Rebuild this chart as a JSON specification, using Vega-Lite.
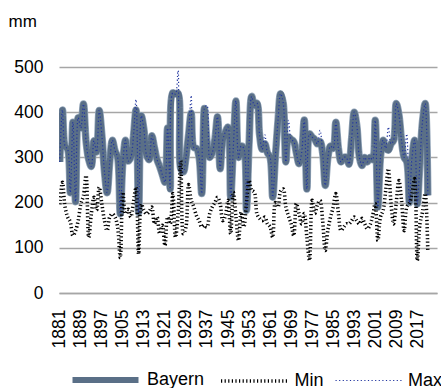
{
 "$schema": "https://vega.github.io/schema/vega-lite/v6.json",
 "width": 378, "height": 226,
 "autosize": {"type": "none"},
 "padding": {"left": 59, "top": 67, "right": 4, "bottom": 95},
 "background": "white",
 "data": {"values": [
{"year":1881,"Bayern":290,"Min":196,"Max":290},
{"year":1882,"Bayern":405,"Min":245,"Max":405},
{"year":1883,"Bayern":325,"Min":190,"Max":325},
{"year":1884,"Bayern":318,"Min":168,"Max":318},
{"year":1885,"Bayern":222,"Min":157,"Max":222},
{"year":1886,"Bayern":378,"Min":127,"Max":378},
{"year":1887,"Bayern":202,"Min":138,"Max":202},
{"year":1888,"Bayern":388,"Min":160,"Max":388},
{"year":1889,"Bayern":365,"Min":197,"Max":365},
{"year":1890,"Bayern":418,"Min":215,"Max":418},
{"year":1891,"Bayern":335,"Min":260,"Max":335},
{"year":1892,"Bayern":295,"Min":123,"Max":295},
{"year":1893,"Bayern":280,"Min":175,"Max":280},
{"year":1894,"Bayern":337,"Min":212,"Max":337},
{"year":1895,"Bayern":312,"Min":183,"Max":312},
{"year":1896,"Bayern":404,"Min":234,"Max":404},
{"year":1897,"Bayern":350,"Min":197,"Max":350},
{"year":1898,"Bayern":268,"Min":160,"Max":268},
{"year":1899,"Bayern":222,"Min":138,"Max":222},
{"year":1900,"Bayern":290,"Min":168,"Max":290},
{"year":1901,"Bayern":338,"Min":175,"Max":338},
{"year":1902,"Bayern":315,"Min":168,"Max":315},
{"year":1903,"Bayern":300,"Min":146,"Max":300},
{"year":1904,"Bayern":175,"Min":78,"Max":175},
{"year":1905,"Bayern":290,"Min":223,"Max":290},
{"year":1906,"Bayern":338,"Min":175,"Max":338},
{"year":1907,"Bayern":292,"Min":185,"Max":292},
{"year":1908,"Bayern":300,"Min":168,"Max":300},
{"year":1909,"Bayern":345,"Min":200,"Max":345},
{"year":1910,"Bayern":405,"Min":234,"Max":428},
{"year":1911,"Bayern":178,"Min":86,"Max":178},
{"year":1912,"Bayern":392,"Min":197,"Max":392},
{"year":1913,"Bayern":362,"Min":183,"Max":362},
{"year":1914,"Bayern":305,"Min":175,"Max":305},
{"year":1915,"Bayern":295,"Min":180,"Max":295},
{"year":1916,"Bayern":348,"Min":190,"Max":348},
{"year":1917,"Bayern":322,"Min":153,"Max":322},
{"year":1918,"Bayern":295,"Min":168,"Max":295},
{"year":1919,"Bayern":280,"Min":131,"Max":280},
{"year":1920,"Bayern":262,"Min":150,"Max":262},
{"year":1921,"Bayern":245,"Min":105,"Max":245},
{"year":1922,"Bayern":365,"Min":168,"Max":365},
{"year":1923,"Bayern":230,"Min":153,"Max":230},
{"year":1924,"Bayern":443,"Min":220,"Max":443},
{"year":1925,"Bayern":440,"Min":123,"Max":440},
{"year":1926,"Bayern":442,"Min":175,"Max":492},
{"year":1927,"Bayern":275,"Min":293,"Max":275},
{"year":1928,"Bayern":268,"Min":131,"Max":268},
{"year":1929,"Bayern":300,"Min":146,"Max":300},
{"year":1930,"Bayern":350,"Min":240,"Max":350},
{"year":1931,"Bayern":398,"Min":205,"Max":437},
{"year":1932,"Bayern":322,"Min":190,"Max":322},
{"year":1933,"Bayern":320,"Min":171,"Max":320},
{"year":1934,"Bayern":300,"Min":160,"Max":300},
{"year":1935,"Bayern":220,"Min":146,"Max":220},
{"year":1936,"Bayern":408,"Min":150,"Max":408},
{"year":1937,"Bayern":335,"Min":146,"Max":415},
{"year":1938,"Bayern":300,"Min":175,"Max":300},
{"year":1939,"Bayern":310,"Min":190,"Max":310},
{"year":1940,"Bayern":340,"Min":200,"Max":340},
{"year":1941,"Bayern":390,"Min":212,"Max":390},
{"year":1942,"Bayern":275,"Min":197,"Max":275},
{"year":1943,"Bayern":338,"Min":160,"Max":338},
{"year":1944,"Bayern":356,"Min":171,"Max":356},
{"year":1945,"Bayern":367,"Min":205,"Max":367},
{"year":1946,"Bayern":212,"Min":131,"Max":212},
{"year":1947,"Bayern":320,"Min":223,"Max":320},
{"year":1948,"Bayern":425,"Min":170,"Max":425},
{"year":1949,"Bayern":300,"Min":116,"Max":300},
{"year":1950,"Bayern":325,"Min":179,"Max":325},
{"year":1951,"Bayern":320,"Min":146,"Max":320},
{"year":1952,"Bayern":183,"Min":197,"Max":183},
{"year":1953,"Bayern":330,"Min":249,"Max":330},
{"year":1954,"Bayern":435,"Min":227,"Max":435},
{"year":1955,"Bayern":415,"Min":223,"Max":415},
{"year":1956,"Bayern":420,"Min":175,"Max":420},
{"year":1957,"Bayern":350,"Min":165,"Max":350},
{"year":1958,"Bayern":318,"Min":160,"Max":318},
{"year":1959,"Bayern":330,"Min":168,"Max":350},
{"year":1960,"Bayern":310,"Min":153,"Max":310},
{"year":1961,"Bayern":300,"Min":146,"Max":300},
{"year":1962,"Bayern":212,"Min":123,"Max":212},
{"year":1963,"Bayern":300,"Min":200,"Max":300},
{"year":1964,"Bayern":380,"Min":190,"Max":380},
{"year":1965,"Bayern":441,"Min":225,"Max":441},
{"year":1966,"Bayern":420,"Min":230,"Max":420},
{"year":1967,"Bayern":290,"Min":190,"Max":290},
{"year":1968,"Bayern":345,"Min":170,"Max":382},
{"year":1969,"Bayern":340,"Min":153,"Max":340},
{"year":1970,"Bayern":335,"Min":127,"Max":335},
{"year":1971,"Bayern":310,"Min":198,"Max":310},
{"year":1972,"Bayern":286,"Min":176,"Max":286},
{"year":1973,"Bayern":310,"Min":153,"Max":310},
{"year":1974,"Bayern":383,"Min":176,"Max":383},
{"year":1975,"Bayern":230,"Min":123,"Max":230},
{"year":1976,"Bayern":352,"Min":72,"Max":352},
{"year":1977,"Bayern":345,"Min":205,"Max":345},
{"year":1978,"Bayern":340,"Min":176,"Max":340},
{"year":1979,"Bayern":330,"Min":195,"Max":330},
{"year":1980,"Bayern":335,"Min":205,"Max":360},
{"year":1981,"Bayern":310,"Min":160,"Max":310},
{"year":1982,"Bayern":238,"Min":94,"Max":238},
{"year":1983,"Bayern":300,"Min":140,"Max":300},
{"year":1984,"Bayern":325,"Min":168,"Max":325},
{"year":1985,"Bayern":320,"Min":190,"Max":320},
{"year":1986,"Bayern":378,"Min":220,"Max":378},
{"year":1987,"Bayern":320,"Min":176,"Max":320},
{"year":1988,"Bayern":290,"Min":138,"Max":290},
{"year":1989,"Bayern":300,"Min":146,"Max":300},
{"year":1990,"Bayern":300,"Min":153,"Max":300},
{"year":1991,"Bayern":285,"Min":153,"Max":285},
{"year":1992,"Bayern":340,"Min":160,"Max":340},
{"year":1993,"Bayern":400,"Min":168,"Max":400},
{"year":1994,"Bayern":370,"Min":160,"Max":370},
{"year":1995,"Bayern":300,"Min":153,"Max":300},
{"year":1996,"Bayern":282,"Min":165,"Max":282},
{"year":1997,"Bayern":300,"Min":153,"Max":300},
{"year":1998,"Bayern":290,"Min":142,"Max":290},
{"year":1999,"Bayern":300,"Min":150,"Max":300},
{"year":2000,"Bayern":295,"Min":170,"Max":295},
{"year":2001,"Bayern":382,"Min":198,"Max":382},
{"year":2002,"Bayern":190,"Min":116,"Max":190},
{"year":2003,"Bayern":300,"Min":168,"Max":300},
{"year":2004,"Bayern":338,"Min":183,"Max":338},
{"year":2005,"Bayern":320,"Min":227,"Max":320},
{"year":2006,"Bayern":316,"Min":275,"Max":367},
{"year":2007,"Bayern":330,"Min":198,"Max":330},
{"year":2008,"Bayern":338,"Min":153,"Max":338},
{"year":2009,"Bayern":419,"Min":200,"Max":419},
{"year":2010,"Bayern":395,"Min":249,"Max":395},
{"year":2011,"Bayern":338,"Min":205,"Max":338},
{"year":2012,"Bayern":300,"Min":138,"Max":300},
{"year":2013,"Bayern":290,"Min":190,"Max":352},
{"year":2014,"Bayern":200,"Min":198,"Max":200},
{"year":2015,"Bayern":300,"Min":220,"Max":300},
{"year":2016,"Bayern":338,"Min":253,"Max":338},
{"year":2017,"Bayern":197,"Min":72,"Max":197},
{"year":2018,"Bayern":290,"Min":153,"Max":290},
{"year":2019,"Bayern":380,"Min":180,"Max":380},
{"year":2020,"Bayern":419,"Min":220,"Max":419},
{"year":2021,"Bayern":216,"Min":94,"Max":216}
 ]},
 "transform": [{"fold": ["Bayern", "Min", "Max"], "as": ["series", "value"]}],
 "encoding": {
  "x": {"field": "year", "type": "quantitative",
        "scale": {"domain": [1880.7, 2024.5], "nice": false, "zero": false},
        "axis": {"values": [1881,1889,1897,1905,1913,1921,1929,1937,1945,1953,1961,1969,1977,1985,1993,2001,2009,2017],
                 "format": "d", "labelAngle": -90, "title": null, "grid": false, "ticks": false,
                 "domain": true, "domainColor": "#a6a6a6", "domainWidth": 1.3, "labelPadding": 16}},
  "y": {"field": "value", "type": "quantitative",
        "scale": {"domain": [0, 500], "nice": false},
        "axis": {"values": [0,100,200,300,400,500], "title": "mm", "titleAngle": 0,
                 "titleAlign": "left", "titleBaseline": "alphabetic", "titleX": -51, "titleY": -41,
                 "titleFontSize": 17, "titleFontWeight": "normal", "titleColor": "#000000",
                 "grid": true, "gridColor": "#a6a6a6", "gridWidth": 1.3, "domain": false, "ticks": false, "labelPadding": 16}}
 },
 "layer": [
  {
   "transform": [{"filter": "datum.series === 'Bayern'"}],
   "mark": {"type": "line", "interpolate": "catmull-rom", "clip": true, "color": "#93a5b8", "strokeWidth": 7.5}
  },
  {
   "mark": {"type": "line", "interpolate": "catmull-rom", "clip": true},
   "encoding": {
    "color": {"field": "series", "type": "nominal",
              "scale": {"domain": ["Bayern", "Min", "Max"], "range": ["#5a6f87", "#000000", "#2236a0"]},
              "legend": {"orient": "none", "legendX": 10.5, "legendY": 277, "direction": "horizontal", "title": null,
                         "symbolType": "stroke", "symbolSize": 4356, "labelFontSize": 18, "labelOffset": 5.5,
                         "columnPadding": 8.5, "labelColor": "#000000",
                         "encode": {"symbols": {"update": {
                           "strokeWidth": {"signal": "datum.value === 'Bayern' ? 6 : 1.4"},
                           "strokeDash": {"signal": "datum.value === 'Bayern' ? [1, 0] : [1.4, 3.6]"}}}}}},
    "strokeWidth": {"field": "series", "type": "nominal",
              "scale": {"domain": ["Bayern", "Min", "Max"], "range": [6, 1.2, 1.2]}},
    "strokeDash": {"field": "series", "type": "nominal",
              "scale": {"domain": ["Bayern", "Min", "Max"], "range": [[1, 0], [1.2, 2.4], [1.2, 2.4]]}}
   }
  }
 ],
 "config": {
  "font": "Liberation Sans",
  "view": {"stroke": null},
  "axis": {"labelFontSize": 17.5, "labelColor": "#000000"}
 }
}
